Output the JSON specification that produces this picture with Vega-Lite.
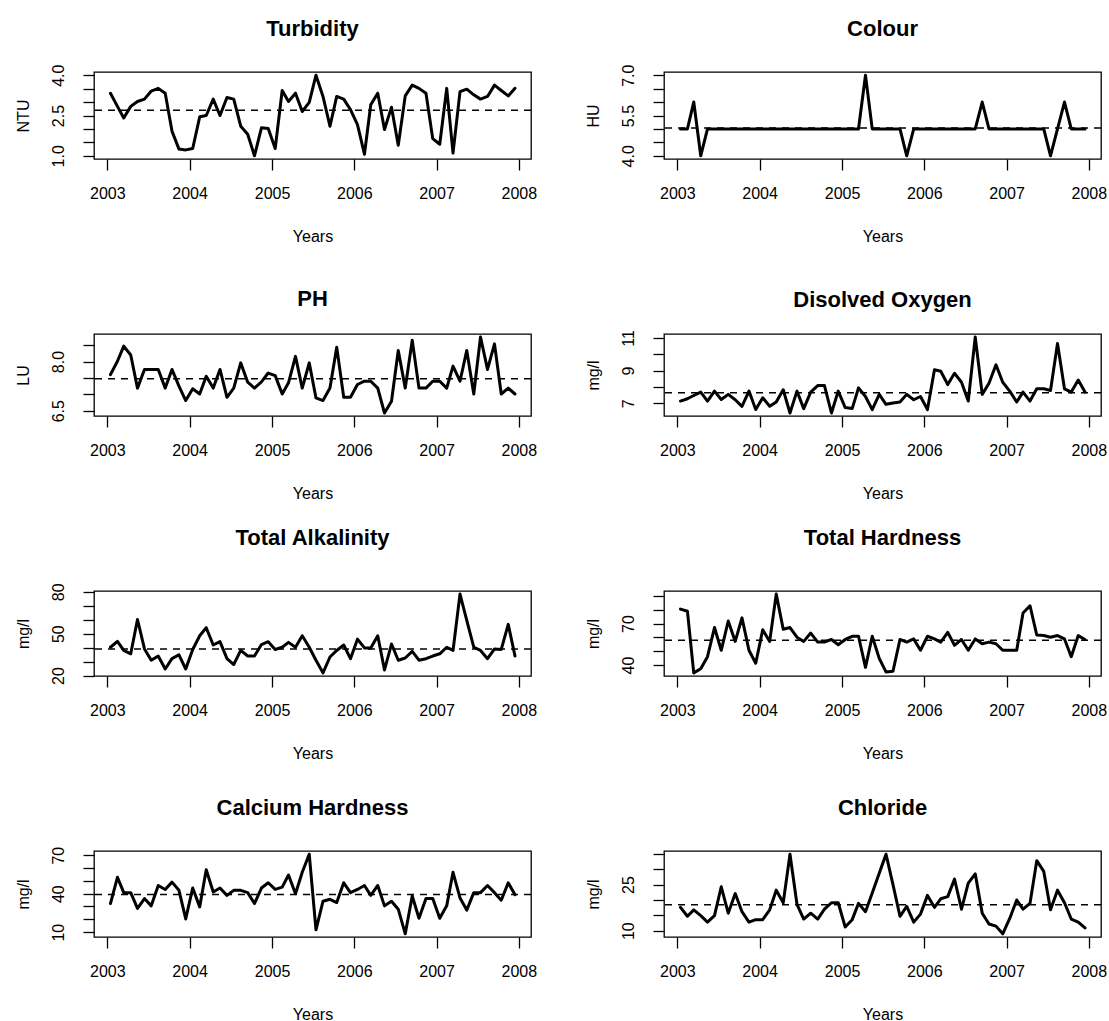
{
"$schema": "https://vega.github.io/schema/vega-lite/v6.json",
"padding": {"left": 14, "top": 17, "right": 5, "bottom": 5},
"background": "white",
"data": {"values": [
{"date":"2003-01-15","Turbidity":3.33,"Colour":5,"pH":7.60,"DO":7.14,"TA":40.3,"TH":80.4,"CaH":32.3,"Cl":17.6},
{"date":"2003-02-15","Turbidity":2.84,"Colour":5,"pH":8.01,"DO":7.28,"TA":44.5,"TH":78.8,"CaH":52.8,"Cl":14.7},
{"date":"2003-03-15","Turbidity":2.41,"Colour":6,"pH":8.47,"DO":7.48,"TA":38.0,"TH":34.4,"CaH":40.8,"Cl":16.8},
{"date":"2003-04-15","Turbidity":2.84,"Colour":4,"pH":8.20,"DO":7.69,"TA":35.6,"TH":37.4,"CaH":40.8,"Cl":14.9},
{"date":"2003-05-15","Turbidity":3.02,"Colour":5,"pH":7.19,"DO":7.14,"TA":60.2,"TH":46.1,"CaH":28.5,"Cl":12.8},
{"date":"2003-06-15","Turbidity":3.11,"Colour":5,"pH":7.76,"DO":7.75,"TA":39.1,"TH":67.1,"CaH":36.2,"Cl":14.9},
{"date":"2003-07-15","Turbidity":3.41,"Colour":5,"pH":7.76,"DO":7.24,"TA":31.0,"TH":50.7,"CaH":30.5,"Cl":24.3},
{"date":"2003-08-15","Turbidity":3.51,"Colour":5,"pH":7.76,"DO":7.55,"TA":34.0,"TH":71.8,"CaH":46.4,"Cl":15.7},
{"date":"2003-09-15","Turbidity":3.33,"Colour":5,"pH":7.19,"DO":7.22,"TA":24.7,"TH":57.1,"CaH":43.3,"Cl":22.1},
{"date":"2003-10-15","Turbidity":1.92,"Colour":5,"pH":7.76,"DO":6.82,"TA":32.1,"TH":74.1,"CaH":49.0,"Cl":16.2},
{"date":"2003-11-15","Turbidity":1.25,"Colour":5,"pH":7.25,"DO":7.75,"TA":34.9,"TH":50.7,"CaH":42.6,"Cl":12.8},
{"date":"2003-12-15","Turbidity":1.22,"Colour":5,"pH":6.81,"DO":6.62,"TA":24.7,"TH":41.4,"CaH":20.3,"Cl":13.6},
{"date":"2004-01-15","Turbidity":1.27,"Colour":5,"pH":7.17,"DO":7.34,"TA":38.7,"TH":65.5,"CaH":44.4,"Cl":13.6},
{"date":"2004-02-15","Turbidity":2.45,"Colour":5,"pH":7.01,"DO":6.82,"TA":48.5,"TH":57.1,"CaH":29.7,"Cl":16.8},
{"date":"2004-03-15","Turbidity":2.50,"Colour":5,"pH":7.55,"DO":7.08,"TA":54.3,"TH":91.2,"CaH":58.7,"Cl":23.2},
{"date":"2004-04-15","Turbidity":3.11,"Colour":5,"pH":7.19,"DO":7.83,"TA":41.9,"TH":65.9,"CaH":41.3,"Cl":19.1},
{"date":"2004-05-15","Turbidity":2.50,"Colour":5,"pH":7.76,"DO":6.41,"TA":44.3,"TH":67.1,"CaH":44.4,"Cl":34.9},
{"date":"2004-06-15","Turbidity":3.17,"Colour":5,"pH":6.91,"DO":7.75,"TA":32.1,"TH":60.1,"CaH":38.7,"Cl":18.6},
{"date":"2004-07-15","Turbidity":3.11,"Colour":5,"pH":7.19,"DO":6.68,"TA":27.9,"TH":57.1,"CaH":42.6,"Cl":13.8},
{"date":"2004-08-15","Turbidity":2.10,"Colour":5,"pH":7.96,"DO":7.69,"TA":38.0,"TH":63.1,"CaH":42.6,"Cl":15.7},
{"date":"2004-09-15","Turbidity":1.80,"Colour":5,"pH":7.37,"DO":8.09,"TA":34.0,"TH":56.6,"CaH":40.8,"Cl":13.8},
{"date":"2004-10-15","Turbidity":1.00,"Colour":5,"pH":7.19,"DO":8.09,"TA":34.0,"TH":56.6,"CaH":32.3,"Cl":17.0},
{"date":"2004-11-15","Turbidity":2.04,"Colour":5,"pH":7.38,"DO":6.41,"TA":42.2,"TH":58.5,"CaH":44.4,"Cl":19.1},
{"date":"2004-12-15","Turbidity":2.02,"Colour":5,"pH":7.65,"DO":7.75,"TA":44.3,"TH":54.7,"CaH":48.5,"Cl":19.1},
{"date":"2005-01-15","Turbidity":1.27,"Colour":5,"pH":7.57,"DO":6.74,"TA":38.7,"TH":58.5,"CaH":43.3,"Cl":11.2},
{"date":"2005-02-15","Turbidity":3.43,"Colour":5,"pH":7.01,"DO":6.68,"TA":40.3,"TH":60.8,"CaH":45.1,"Cl":13.6},
{"date":"2005-03-15","Turbidity":3.02,"Colour":5,"pH":7.35,"DO":7.95,"TA":43.8,"TH":60.8,"CaH":54.6,"Cl":18.9},
{"date":"2005-04-15","Turbidity":3.33,"Colour":7,"pH":8.16,"DO":7.42,"TA":40.3,"TH":38.4,"CaH":40.0,"Cl":16.2},
{"date":"2005-05-15","Turbidity":2.65,"Colour":5,"pH":7.19,"DO":6.62,"TA":48.5,"TH":60.8,"CaH":56.7,"Cl":22.3},
{"date":"2005-06-15","Turbidity":2.99,"Colour":5,"pH":7.96,"DO":7.55,"TA":40.3,"TH":44.9,"CaH":70.8,"Cl":28.7},
{"date":"2005-07-15","Turbidity":4.00,"Colour":5,"pH":6.89,"DO":6.94,"TA":31.0,"TH":35.1,"CaH":11.8,"Cl":34.9},
{"date":"2005-08-15","Turbidity":3.21,"Colour":5,"pH":6.81,"DO":7.02,"TA":21.9,"TH":35.6,"CaH":34.1,"Cl":25.0},
{"date":"2005-09-15","Turbidity":2.10,"Colour":5,"pH":7.19,"DO":7.08,"TA":33.3,"TH":58.5,"CaH":35.6,"Cl":14.7},
{"date":"2005-10-15","Turbidity":3.21,"Colour":4,"pH":8.44,"DO":7.55,"TA":38.0,"TH":56.6,"CaH":33.1,"Cl":17.9},
{"date":"2005-11-15","Turbidity":3.11,"Colour":5,"pH":6.91,"DO":7.22,"TA":41.9,"TH":58.9,"CaH":48.5,"Cl":12.8},
{"date":"2005-12-15","Turbidity":2.72,"Colour":5,"pH":6.91,"DO":7.42,"TA":32.1,"TH":50.7,"CaH":40.8,"Cl":15.4},
{"date":"2006-01-15","Turbidity":2.16,"Colour":5,"pH":7.30,"DO":6.62,"TA":46.1,"TH":60.8,"CaH":43.3,"Cl":21.5},
{"date":"2006-02-15","Turbidity":1.06,"Colour":5,"pH":7.40,"DO":9.06,"TA":39.8,"TH":58.9,"CaH":46.4,"Cl":17.6},
{"date":"2006-03-15","Turbidity":2.90,"Colour":5,"pH":7.40,"DO":8.96,"TA":39.8,"TH":56.6,"CaH":38.7,"Cl":20.4},
{"date":"2006-04-15","Turbidity":3.33,"Colour":5,"pH":7.19,"DO":8.15,"TA":48.5,"TH":63.6,"CaH":46.4,"Cl":21.1},
{"date":"2006-05-15","Turbidity":1.98,"Colour":5,"pH":6.43,"DO":8.84,"TA":24.0,"TH":54.3,"CaH":30.5,"Cl":26.8},
{"date":"2006-06-15","Turbidity":2.81,"Colour":5,"pH":6.79,"DO":8.29,"TA":42.6,"TH":58.5,"CaH":34.1,"Cl":17.0},
{"date":"2006-07-15","Turbidity":1.39,"Colour":5,"pH":8.34,"DO":7.14,"TA":31.0,"TH":50.7,"CaH":27.9,"Cl":25.5},
{"date":"2006-08-15","Turbidity":3.23,"Colour":5,"pH":7.19,"DO":11.06,"TA":32.6,"TH":58.9,"CaH":8.7,"Cl":28.5},
{"date":"2006-09-15","Turbidity":3.63,"Colour":6,"pH":8.65,"DO":7.55,"TA":37.3,"TH":55.4,"CaH":38.2,"Cl":15.7},
{"date":"2006-10-15","Turbidity":3.51,"Colour":5,"pH":7.19,"DO":8.23,"TA":31.0,"TH":56.6,"CaH":20.8,"Cl":12.2},
{"date":"2006-11-15","Turbidity":3.33,"Colour":5,"pH":7.19,"DO":9.36,"TA":32.1,"TH":55.4,"CaH":36.2,"Cl":11.5},
{"date":"2006-12-15","Turbidity":1.64,"Colour":5,"pH":7.40,"DO":8.29,"TA":34.0,"TH":50.7,"CaH":36.2,"Cl":9.0},
{"date":"2007-01-15","Turbidity":1.43,"Colour":5,"pH":7.40,"DO":7.75,"TA":35.6,"TH":50.7,"CaH":20.8,"Cl":14.0},
{"date":"2007-02-15","Turbidity":3.51,"Colour":5,"pH":7.19,"DO":7.08,"TA":40.3,"TH":50.7,"CaH":30.5,"Cl":20.0},
{"date":"2007-03-15","Turbidity":1.10,"Colour":5,"pH":7.86,"DO":7.69,"TA":38.0,"TH":77.6,"CaH":56.7,"Cl":17.0},
{"date":"2007-04-15","Turbidity":3.39,"Colour":5,"pH":7.40,"DO":7.14,"TA":78.4,"TH":82.8,"CaH":36.7,"Cl":18.9},
{"date":"2007-05-15","Turbidity":3.48,"Colour":5,"pH":8.34,"DO":7.89,"TA":59.5,"TH":61.7,"CaH":27.2,"Cl":32.8},
{"date":"2007-06-15","Turbidity":3.27,"Colour":5,"pH":7.01,"DO":7.89,"TA":40.3,"TH":61.3,"CaH":40.8,"Cl":29.3},
{"date":"2007-07-15","Turbidity":3.11,"Colour":4,"pH":8.75,"DO":7.79,"TA":38.0,"TH":60.1,"CaH":40.8,"Cl":16.8},
{"date":"2007-08-15","Turbidity":3.21,"Colour":5,"pH":7.76,"DO":10.66,"TA":32.1,"TH":61.3,"CaH":46.4,"Cl":23.2},
{"date":"2007-09-15","Turbidity":3.63,"Colour":6,"pH":8.54,"DO":7.89,"TA":39.1,"TH":58.9,"CaH":40.8,"Cl":19.1},
{"date":"2007-10-15","Turbidity":3.43,"Colour":5,"pH":7.01,"DO":7.69,"TA":38.7,"TH":46.1,"CaH":34.9,"Cl":13.8},
{"date":"2007-11-15","Turbidity":3.23,"Colour":5,"pH":7.19,"DO":8.43,"TA":56.7,"TH":61.3,"CaH":48.5,"Cl":12.8},
{"date":"2007-12-15","Turbidity":3.51,"Colour":5,"pH":7.01,"DO":7.69,"TA":34.0,"TH":58.5,"CaH":39.2,"Cl":10.9}
]},
"concat": [
  {"title": {"text": "Turbidity", "offset": 23}, "width": 437, "height": 87, "layer": [
   {"mark": {"type": "line", "color": "black", "strokeWidth": 3, "strokeJoin": "round", "strokeCap": "round"},
    "encoding": {
     "x": {"field": "date", "type": "temporal", "title": "Years", "scale": {"type": "utc", "domain": [{"year": 2002, "month": 11, "date": 3, "utc": true}, {"year": 2008, "month": 2, "date": 24, "utc": true}]}, "axis": {"values": [{"year": 2003, "utc": true}, {"year": 2004, "utc": true}, {"year": 2005, "utc": true}, {"year": 2006, "utc": true}, {"year": 2007, "utc": true}, {"year": 2008, "utc": true}], "format": "%Y", "labelOverlap": false, "tickCount": 20}},
     "y": {"field": "Turbidity", "type": "quantitative", "title": "NTU", "scale": {"zero": false, "nice": false, "padding": 3.2}, "axis": {"labelOverlap": false, "tickCount": 20, "values": [1, 1.5, 2, 2.5, 3, 3.5, 4], "labelExpr": "indexof([1, 2.5, 4], datum.value) >= 0 ? format(datum.value, '.1f') : ''"}}}},
   {"mark": {"type": "rule", "color": "black", "strokeWidth": 1.5, "strokeDash": [7, 6]},
    "encoding": {"y": {"aggregate": "mean", "field": "Turbidity", "type": "quantitative", "title": "NTU"}}}
  ]},
  {"title": {"text": "Colour", "offset": 23}, "width": 437, "height": 87, "layer": [
   {"mark": {"type": "line", "color": "black", "strokeWidth": 3, "strokeJoin": "round", "strokeCap": "round"},
    "encoding": {
     "x": {"field": "date", "type": "temporal", "title": "Years", "scale": {"type": "utc", "domain": [{"year": 2002, "month": 11, "date": 3, "utc": true}, {"year": 2008, "month": 2, "date": 24, "utc": true}]}, "axis": {"values": [{"year": 2003, "utc": true}, {"year": 2004, "utc": true}, {"year": 2005, "utc": true}, {"year": 2006, "utc": true}, {"year": 2007, "utc": true}, {"year": 2008, "utc": true}], "format": "%Y", "labelOverlap": false, "tickCount": 20}},
     "y": {"field": "Colour", "type": "quantitative", "title": "HU", "scale": {"zero": false, "nice": false, "padding": 3.2}, "axis": {"labelOverlap": false, "tickCount": 20, "values": [4, 4.5, 5, 5.5, 6, 6.5, 7], "labelExpr": "indexof([4, 5.5, 7], datum.value) >= 0 ? format(datum.value, '.1f') : ''"}}}},
   {"mark": {"type": "rule", "color": "black", "strokeWidth": 1.5, "strokeDash": [7, 6]},
    "encoding": {"y": {"aggregate": "mean", "field": "Colour", "type": "quantitative", "title": "HU"}}}
  ]},
  {"title": {"text": "PH", "offset": 23}, "width": 437, "height": 82, "layer": [
   {"mark": {"type": "line", "color": "black", "strokeWidth": 3, "strokeJoin": "round", "strokeCap": "round"},
    "encoding": {
     "x": {"field": "date", "type": "temporal", "title": "Years", "scale": {"type": "utc", "domain": [{"year": 2002, "month": 11, "date": 3, "utc": true}, {"year": 2008, "month": 2, "date": 24, "utc": true}]}, "axis": {"values": [{"year": 2003, "utc": true}, {"year": 2004, "utc": true}, {"year": 2005, "utc": true}, {"year": 2006, "utc": true}, {"year": 2007, "utc": true}, {"year": 2008, "utc": true}], "format": "%Y", "labelOverlap": false, "tickCount": 20}},
     "y": {"field": "pH", "type": "quantitative", "title": "LU", "scale": {"zero": false, "nice": false, "padding": 3.0}, "axis": {"labelOverlap": false, "tickCount": 20, "values": [6.5, 7, 7.5, 8, 8.5], "labelExpr": "indexof([6.5, 8], datum.value) >= 0 ? format(datum.value, '.1f') : ''"}}}},
   {"mark": {"type": "rule", "color": "black", "strokeWidth": 1.5, "strokeDash": [7, 6]},
    "encoding": {"y": {"aggregate": "mean", "field": "pH", "type": "quantitative", "title": "LU"}}}
  ]},
  {"title": {"text": "Disolved Oxygen", "offset": 18}, "width": 437, "height": 82, "layer": [
   {"mark": {"type": "line", "color": "black", "strokeWidth": 3, "strokeJoin": "round", "strokeCap": "round"},
    "encoding": {
     "x": {"field": "date", "type": "temporal", "title": "Years", "scale": {"type": "utc", "domain": [{"year": 2002, "month": 11, "date": 3, "utc": true}, {"year": 2008, "month": 2, "date": 24, "utc": true}]}, "axis": {"values": [{"year": 2003, "utc": true}, {"year": 2004, "utc": true}, {"year": 2005, "utc": true}, {"year": 2006, "utc": true}, {"year": 2007, "utc": true}, {"year": 2008, "utc": true}], "format": "%Y", "labelOverlap": false, "tickCount": 20}},
     "y": {"field": "DO", "type": "quantitative", "title": "mg/l", "scale": {"zero": false, "nice": false, "padding": 3.0}, "axis": {"labelOverlap": false, "tickCount": 20, "values": [7, 8, 9, 10, 11], "labelExpr": "indexof([7, 9, 11], datum.value) >= 0 ? format(datum.value, 'd') : ''"}}}},
   {"mark": {"type": "rule", "color": "black", "strokeWidth": 1.5, "strokeDash": [7, 6]},
    "encoding": {"y": {"aggregate": "mean", "field": "DO", "type": "quantitative", "title": "mg/l"}}}
  ]},
  {"title": {"text": "Total Alkalinity", "offset": 33}, "width": 437, "height": 85, "layer": [
   {"mark": {"type": "line", "color": "black", "strokeWidth": 3, "strokeJoin": "round", "strokeCap": "round"},
    "encoding": {
     "x": {"field": "date", "type": "temporal", "title": "Years", "scale": {"type": "utc", "domain": [{"year": 2002, "month": 11, "date": 3, "utc": true}, {"year": 2008, "month": 2, "date": 24, "utc": true}]}, "axis": {"values": [{"year": 2003, "utc": true}, {"year": 2004, "utc": true}, {"year": 2005, "utc": true}, {"year": 2006, "utc": true}, {"year": 2007, "utc": true}, {"year": 2008, "utc": true}], "format": "%Y", "labelOverlap": false, "tickCount": 20}},
     "y": {"field": "TA", "type": "quantitative", "title": "mg/l", "scale": {"zero": false, "nice": false, "padding": 3.1}, "axis": {"labelOverlap": false, "tickCount": 20, "values": [20, 30, 40, 50, 60, 70, 80], "labelExpr": "indexof([20, 50, 80], datum.value) >= 0 ? format(datum.value, 'd') : ''"}}}},
   {"mark": {"type": "rule", "color": "black", "strokeWidth": 1.5, "strokeDash": [7, 6]},
    "encoding": {"y": {"aggregate": "mean", "field": "TA", "type": "quantitative", "title": "mg/l"}}}
  ]},
  {"title": {"text": "Total Hardness", "offset": 41}, "width": 437, "height": 85, "layer": [
   {"mark": {"type": "line", "color": "black", "strokeWidth": 3, "strokeJoin": "round", "strokeCap": "round"},
    "encoding": {
     "x": {"field": "date", "type": "temporal", "title": "Years", "scale": {"type": "utc", "domain": [{"year": 2002, "month": 11, "date": 3, "utc": true}, {"year": 2008, "month": 2, "date": 24, "utc": true}]}, "axis": {"values": [{"year": 2003, "utc": true}, {"year": 2004, "utc": true}, {"year": 2005, "utc": true}, {"year": 2006, "utc": true}, {"year": 2007, "utc": true}, {"year": 2008, "utc": true}], "format": "%Y", "labelOverlap": false, "tickCount": 20}},
     "y": {"field": "TH", "type": "quantitative", "title": "mg/l", "scale": {"zero": false, "nice": false, "padding": 3.1}, "axis": {"labelOverlap": false, "tickCount": 20, "values": [40, 50, 60, 70, 80, 90], "labelExpr": "indexof([40, 70], datum.value) >= 0 ? format(datum.value, 'd') : ''"}}}},
   {"mark": {"type": "rule", "color": "black", "strokeWidth": 1.5, "strokeDash": [7, 6]},
    "encoding": {"y": {"aggregate": "mean", "field": "TH", "type": "quantitative", "title": "mg/l"}}}
  ]},
  {"title": {"text": "Calcium Hardness", "offset": 26}, "width": 437, "height": 86, "layer": [
   {"mark": {"type": "line", "color": "black", "strokeWidth": 3, "strokeJoin": "round", "strokeCap": "round"},
    "encoding": {
     "x": {"field": "date", "type": "temporal", "title": "Years", "scale": {"type": "utc", "domain": [{"year": 2002, "month": 11, "date": 3, "utc": true}, {"year": 2008, "month": 2, "date": 24, "utc": true}]}, "axis": {"values": [{"year": 2003, "utc": true}, {"year": 2004, "utc": true}, {"year": 2005, "utc": true}, {"year": 2006, "utc": true}, {"year": 2007, "utc": true}, {"year": 2008, "utc": true}], "format": "%Y", "labelOverlap": false, "tickCount": 20}},
     "y": {"field": "CaH", "type": "quantitative", "title": "mg/l", "scale": {"zero": false, "nice": false, "padding": 3.2}, "axis": {"labelOverlap": false, "tickCount": 20, "values": [10, 20, 30, 40, 50, 60, 70], "labelExpr": "indexof([10, 40, 70], datum.value) >= 0 ? format(datum.value, 'd') : ''"}}}},
   {"mark": {"type": "rule", "color": "black", "strokeWidth": 1.5, "strokeDash": [7, 6]},
    "encoding": {"y": {"aggregate": "mean", "field": "CaH", "type": "quantitative", "title": "mg/l"}}}
  ]},
  {"title": {"text": "Chloride", "offset": 31}, "width": 437, "height": 86, "layer": [
   {"mark": {"type": "line", "color": "black", "strokeWidth": 3, "strokeJoin": "round", "strokeCap": "round"},
    "encoding": {
     "x": {"field": "date", "type": "temporal", "title": "Years", "scale": {"type": "utc", "domain": [{"year": 2002, "month": 11, "date": 3, "utc": true}, {"year": 2008, "month": 2, "date": 24, "utc": true}]}, "axis": {"values": [{"year": 2003, "utc": true}, {"year": 2004, "utc": true}, {"year": 2005, "utc": true}, {"year": 2006, "utc": true}, {"year": 2007, "utc": true}, {"year": 2008, "utc": true}], "format": "%Y", "labelOverlap": false, "tickCount": 20}},
     "y": {"field": "Cl", "type": "quantitative", "title": "mg/l", "scale": {"zero": false, "nice": false, "padding": 3.2}, "axis": {"labelOverlap": false, "tickCount": 20, "values": [10, 15, 20, 25, 30, 35], "labelExpr": "indexof([10, 25], datum.value) >= 0 ? format(datum.value, 'd') : ''"}}}},
   {"mark": {"type": "rule", "color": "black", "strokeWidth": 1.5, "strokeDash": [7, 6]},
    "encoding": {"y": {"aggregate": "mean", "field": "Cl", "type": "quantitative", "title": "mg/l"}}}
  ]}
],
"columns": 2,
"spacing": {"row": 175, "column": 133},
"bounds": "flush",
"config": {
 "font": "Liberation Sans",
 "view": {"stroke": "black", "strokeWidth": 1.3},
 "axis": {"domain": false, "grid": false, "ticks": true, "tickColor": "black", "tickWidth": 1.3, "tickSize": 11, "labelFont": "Liberation Sans", "labelFontSize": 16, "labelColor": "black", "titleFont": "Liberation Sans", "titleFontSize": 16, "titleFontWeight": "normal", "titleColor": "black", "labelOverlap": false, "labelFlush": false, "labelBound": false},
 "axisX": {"labelPadding": 15, "titleY": 77, "titleBaseline": "middle"},
 "axisY": {"labelAngle": 270, "labelAlign": "center", "labelBaseline": "bottom", "labelPadding": 17, "titleX": -71, "titleBaseline": "middle", "titleAngle": 270},
 "title": {"font": "Liberation Sans", "fontSize": 22, "fontWeight": "bold", "color": "black", "anchor": "middle", "frame": "group", "baseline": "middle", "offset": 33}
}
}
